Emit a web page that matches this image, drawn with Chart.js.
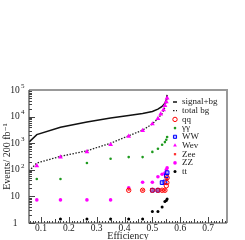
<!DOCTYPE html>
<html>
<head>
<meta charset="utf-8">
<script src="https://cdn.jsdelivr.net/npm/chart.js@4/dist/chart.umd.min.js"></script>
<style>
  html, body { margin: 0; padding: 0; background: #fff; }
</style>
</head>
<body>
<canvas id="chart" width="245" height="240"></canvas>
<script>
// values
const sigEff = [0.057, 0.085, 0.17, 0.265, 0.35, 0.415, 0.465, 0.5, 0.52, 0.535, 0.545, 0.55, 0.553];
const sigVal = [1100, 2100, 4000, 6300, 8800, 11000, 13000, 15500, 19000, 24000, 32000, 42000, 65000];
const bgEff = [0.057, 0.085, 0.17, 0.265, 0.35, 0.415, 0.465, 0.5, 0.52, 0.535, 0.545, 0.55, 0.553];
const bgVal = [90, 180, 320, 520, 1000, 1900, 3100, 5300, 8500, 13000, 22000, 35000, 55000];

const qqEff = [0.415, 0.465, 0.5, 0.52, 0.535, 0.545, 0.55, 0.552, 0.553];
const qqVal = [17, 17, 17, 17, 17, 17, 25, 33, 50];
const ggEff = [0.085, 0.17, 0.265, 0.35, 0.415, 0.465, 0.5, 0.52, 0.535, 0.545, 0.55, 0.553];
const ggVal = [45, 45, 180, 260, 300, 300, 470, 620, 870, 1100, 1350, 1700];
const wwEff = [0.5, 0.52, 0.535, 0.545, 0.55, 0.553];
const wwVal = [17, 17, 33, 35, 60, 78];
const wevEff = [0.085, 0.17, 0.265, 0.35, 0.415, 0.465, 0.5, 0.52, 0.53, 0.54, 0.545, 0.55, 0.553];
const wevVal = [140, 300, 470, 880, 1800, 3000, 5300, 8500, 12500, 18000, 26000, 36000, 50000];
const zeeEff = [0.415, 0.465, 0.5, 0.52, 0.535, 0.545, 0.55, 0.553];
const zeeVal = [18, 17, 17, 17, 17, 17, 30, 45];
const zzEff = [0.085, 0.17, 0.265, 0.35, 0.415, 0.465, 0.5, 0.52, 0.535, 0.545, 0.55, 0.553];
const zzVal = [7.4, 7.4, 7.4, 7.4, 21, 34, 34, 55, 68, 75, 100, 118];
const ttEff = [0.17, 0.265, 0.35, 0.415, 0.465, 0.5, 0.52, 0.535, 0.545, 0.55, 0.553];
const ttVal = [1.4, 1.4, 1.4, 1.4, 1.4, 2.7, 2.7, 4, 6.5, 7, 8];

const xTicks = [0.1, 0.2, 0.3, 0.4, 0.5, 0.6, 0.7];
const yTicks = [1, 10, 100, 1000, 10000, 100000];

const pts = (xs, ys) => xs.map((x, i) => ({ x: x, y: ys[i] }));
const serif = '"Liberation Serif", "DejaVu Serif", serif';

const datasets = [
  { label: 'signal+bg', data: pts(sigEff, sigVal), showLine: true, borderColor: '#111', borderWidth: 1.5, pointRadius: 0, order: 10 },
  { label: 'total bg', data: pts(bgEff, bgVal), showLine: true, borderColor: '#222', borderWidth: 1.3, borderDash: [1.5, 1.5], pointRadius: 0, order: 10 },
  { label: 'qq', data: pts(qqEff, qqVal), pointStyle: 'circle', pointRadius: 2.2, borderColor: '#ff0000', backgroundColor: 'rgba(255,255,255,0)', borderWidth: 1 },
  { label: 'γγ', data: pts(ggEff, ggVal), pointStyle: 'circle', pointRadius: 1.3, borderWidth: 0, backgroundColor: '#1e9a1e' },
  { label: 'WW', data: pts(wwEff, wwVal), pointStyle: 'rect', pointRadius: 2.6, borderColor: '#0000ff', backgroundColor: 'rgba(120,120,255,0.5)', borderWidth: 1 },
  { label: 'Wev', data: pts(wevEff, wevVal), pointStyle: 'triangle', pointRadius: 2.8, borderWidth: 0, backgroundColor: '#ff00ff' },
  { label: 'Zee', data: pts(zeeEff, zeeVal), pointStyle: 'rect', pointRadius: 1.6, borderWidth: 0, backgroundColor: '#ff3030' },
  { label: 'ZZ', data: pts(zzEff, zzVal), pointStyle: 'circle', pointRadius: 1.8, borderWidth: 0, backgroundColor: '#ff00ff' },
  { label: 'tt', data: pts(ttEff, ttVal), pointStyle: 'circle', pointRadius: 1.5, borderWidth: 0, backgroundColor: '#000' }
];

// frame, inward ticks, tick labels, axis titles and the legend
const decor = {
  id: 'decor',
  afterDatasetsDraw(chart) {
    const ctx = chart.ctx, a = chart.chartArea;
    const xs = chart.scales.x, ys = chart.scales.y;
    ctx.save();
    ctx.strokeStyle = '#999';
    ctx.lineWidth = 2;
    ctx.beginPath();
    ctx.moveTo(a.left, a.top); ctx.lineTo(a.right, a.top); ctx.lineTo(a.right, a.bottom);
    ctx.stroke();
    ctx.strokeStyle = '#444';
    ctx.lineWidth = 1.2;
    ctx.beginPath();
    ctx.moveTo(a.left, a.top); ctx.lineTo(a.left, a.bottom); ctx.lineTo(a.right, a.bottom);
    ctx.stroke();

    ctx.lineWidth = 1;
    ctx.beginPath();
    for (let v = 0.06; v < 0.77; v += 0.01) {
      const px = Math.round(xs.getPixelForValue(v)) + 0.5;
      const major = Math.abs(v * 10 - Math.round(v * 10)) < 1e-6;
      const mid = Math.abs(v * 20 - Math.round(v * 20)) < 1e-6;
      const len = major ? 6 : (mid ? 4 : 2);
      ctx.moveTo(px, a.bottom); ctx.lineTo(px, a.bottom - len);
    }
    for (let e = 0; e < 5; e++) {
      for (let m = 1; m < 10; m++) {
        const py = Math.round(ys.getPixelForValue(m * Math.pow(10, e))) + 0.5;
        const len = m === 1 ? 6 : 3;
        ctx.moveTo(a.left, py); ctx.lineTo(a.left + len, py);
      }
    }
    ctx.stroke();

    ctx.fillStyle = '#222';
    ctx.textBaseline = 'middle';
    yTicks.forEach((v, e) => {
      const py = ys.getPixelForValue(v);
      ctx.font = '9.5px ' + serif;
      ctx.textAlign = 'center';
      ctx.fillText(e === 0 ? '1' : '10', 15, py);
      if (e > 1) {
        ctx.font = '7px ' + serif;
        ctx.textAlign = 'left';
        ctx.fillText(String(e), 21, py - 4);
      }
    });
    ctx.font = '9.5px ' + serif;
    ctx.textAlign = 'center';
    xTicks.forEach(v => ctx.fillText(v.toFixed(1), xs.getPixelForValue(v), 228.5));

    ctx.font = '10px ' + serif;
    ctx.fillText('Efficiency', (a.left + a.right) / 2, 236.5);
    ctx.save();
    ctx.translate(7, (a.top + a.bottom) / 2);
    ctx.rotate(-Math.PI / 2);
    ctx.fillText('Events/ 200 fb\u207B\u00B9', 0, 0);
    ctx.restore();

    ctx.font = '9px ' + serif;
    ctx.textAlign = 'left';
    chart.data.datasets.forEach((ds, i) => {
      const y = 102 + i * 8.7, x = 175;
      if (ds.showLine) {
        ctx.strokeStyle = ds.borderColor;
        ctx.lineWidth = ds.borderWidth;
        ctx.setLineDash(ds.borderDash || []);
        ctx.beginPath(); ctx.moveTo(x - 2, y); ctx.lineTo(x + 2, y); ctx.stroke();
        ctx.setLineDash([]);
      } else {
        ctx.lineWidth = ds.borderWidth || 1;
        ctx.strokeStyle = ds.borderColor || ds.backgroundColor;
        ctx.fillStyle = ds.backgroundColor;
        Chart.helpers.drawPoint(ctx, { pointStyle: ds.pointStyle, radius: Math.min(ds.pointRadius, 2.2), borderWidth: ds.borderWidth || 0, rotation: 0 }, x, y);
      }
      ctx.fillStyle = '#222';
      ctx.fillText(ds.label, 182, y);
    });
    ctx.restore();
  }
};

new Chart(document.getElementById('chart'), {
  type: 'scatter',
  data: { datasets: datasets },
  plugins: [decor],
  options: {
    responsive: false,
    animation: false,
    layout: { padding: { top: 90, right: 18, left: 0, bottom: 0 } },
    plugins: { legend: { display: false }, tooltip: { enabled: false } },
    scales: {
      x: {
        type: 'linear', min: 0.057, max: 0.768,
        afterBuildTicks: s => { s.ticks = xTicks.map(v => ({ value: v })); },
        afterFit: s => { s.height = 17; },
        grid: { display: false }, border: { display: false },
        ticks: { display: false }
      },
      y: {
        type: 'logarithmic', min: 1, max: 100000,
        afterBuildTicks: s => { s.ticks = yTicks.map(v => ({ value: v })); },
        afterFit: s => { s.width = 29; },
        grid: { display: false }, border: { display: false },
        ticks: { display: false }
      }
    }
  }
});
</script>
</body>
</html>
